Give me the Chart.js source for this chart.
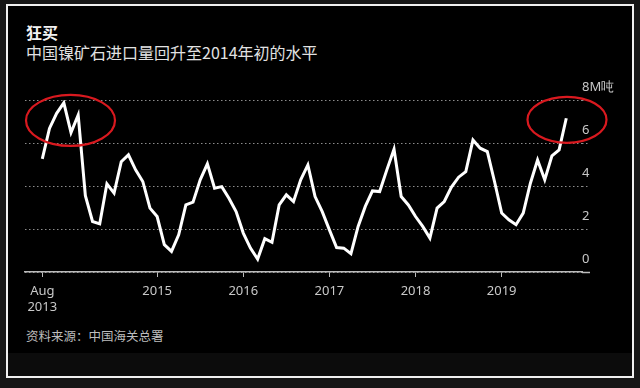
<!DOCTYPE html>
<html>
<head>
<meta charset="utf-8">
<script src="https://cdn.jsdelivr.net/npm/chart.js@4.4.1/dist/chart.umd.min.js"></script>
<style>
  body { margin: 0; background: #161616; width: 640px; height: 388px; overflow: hidden; }
  #frame { position: absolute; left: 6px; top: 4px; width: 628px; height: 374px; box-sizing: border-box;
           border: 2px solid #f0f0f0; background: #000; }
  #band { position: absolute; left: 8px; top: 353px; width: 624px; height: 23px; background: #0c0c0c; }
  .txt { position: absolute; left: 26px; font-family: "Noto Sans CJK SC", "Noto Sans", sans-serif; white-space: nowrap; }
  #title { top: 20px; font-size: 16px; font-weight: bold; color: #f2f2f2; }
  #subtitle { top: 40px; font-size: 16px; color: #e2e2e2; }
  #source { top: 326px; font-size: 12.5px; color: #bdbdbd; }
  canvas { position: absolute; left: 0; top: 0; }
</style>
</head>
<body>
<div id="frame"></div>
<div id="band"></div>
<div class="txt" id="title">狂买</div>
<div class="txt" id="subtitle">中国镍矿石进口量回升至2014年初的水平</div>
<div class="txt" id="source">资料来源：中国海关总署</div>
<canvas id="myChart" width="640" height="388"></canvas>
<script>
// monthly nickel ore imports, million tonnes, Aug 2013 - Sep 2019
let months = [];
for (let y = 2013; y <= 2019; y++) {
    for (let m = 1; m <= 12; m++) {
        if ((y === 2013 && m < 8) || (y === 2019 && m > 9)) continue;
        months.push(y + '-' + (m < 10 ? '0' + m : m));
    }
}
let imports = [5.26, 6.68, 7.38, 7.87, 6.48, 7.30, 3.55, 2.35, 2.24, 4.10, 3.67, 5.13,
    5.45, 4.75, 4.21, 2.97, 2.58, 1.27, 0.96, 1.73, 3.12, 3.25, 4.29, 5.03,
    3.90, 3.97, 3.43, 2.81, 1.81, 1.11, 0.60, 1.55, 1.38, 3.12, 3.59, 3.28,
    4.29, 4.98, 3.51, 2.81, 1.96, 1.14, 1.11, 0.85, 2.12, 3.05, 3.77, 3.74,
    4.75, 5.71, 3.51, 3.12, 2.58, 2.12, 1.58, 2.97, 3.28, 3.95, 4.41, 4.67,
    6.14, 5.76, 5.60, 4.21, 2.74, 2.43, 2.20, 2.74, 4.13, 5.21, 4.29, 5.40,
    5.68, 7.15];
// x tick positions (index into months) and their labels
let xTickIdx = [0, 16, 28, 40, 52, 64];
let xTickText = [['Aug', '2013'], '2015', '2016', '2017', '2018', '2019'];
let yTicks = [0, 2, 4, 6, 8];
let yUnit = 'M吨';

let points = imports.map((v, i) => ({ x: i, y: v }));

// red circles around early 2014 and latest month
const ellipses = {
    id: 'ellipses',
    afterDatasetsDraw(chart) {
        let ctx = chart.ctx;
        let xs = chart.scales.x, ys = chart.scales.y;
        let marks = [{ i: 3.93, v: 7.05, rx: 44.5, ry: 25.5 }, { i: 73.1, v: 7.08, rx: 39.5, ry: 23 }];
        ctx.save();
        ctx.strokeStyle = '#d9191f';
        ctx.lineWidth = 2.2;
        marks.forEach(m => {
            ctx.beginPath();
            ctx.ellipse(xs.getPixelForValue(m.i), ys.getPixelForValue(m.v), m.rx, m.ry, 0, 0, Math.PI * 2);
            ctx.stroke();
        });
        ctx.restore();
    }
};

let ctx = document.getElementById('myChart').getContext('2d');
let myChart = new Chart(ctx, {
    type: 'line',
    data: {
        datasets: [{
            data: points,
            borderColor: '#ffffff',
            borderWidth: 3,
            pointRadius: 0,
            tension: 0,
            borderJoinStyle: 'miter'
        }]
    },
    options: {
        responsive: false,
        animation: false,
        layout: { padding: { left: 25, right: 0, top: 100, bottom: 76 } },
        plugins: { legend: { display: false }, tooltip: { enabled: false } },
        scales: {
            x: {
                type: 'linear',
                min: -2.41,
                max: 75.19,
                afterBuildTicks: (scale) => { scale.ticks = xTickIdx.map(v => ({ value: v })); },
                afterFit: (scale) => { scale.height = 40; },
                grid: { drawOnChartArea: false, color: '#bbbbbb', tickLength: 5, lineWidth: 1 },
                border: { color: '#bbbbbb', width: 1.5 },
                ticks: {
                    color: '#c8c8c8',
                    padding: 6,
                    maxRotation: 0,
                    autoSkip: false,
                    font: { family: 'Noto Sans', size: 13, lineHeight: 1.25 },
                    callback: (v) => xTickText[xTickIdx.indexOf(v)]
                }
            },
            y: {
                position: 'right',
                min: 0,
                max: 8,
                afterBuildTicks: (scale) => { scale.ticks = yTicks.map(v => ({ value: v })); },
                afterFit: (scale) => { scale.width = 58; },
                grid: {
                    color: '#8c8c8c',
                    lineWidth: 1,
                    drawTicks: true,
                    tickLength: 8,
                    // grid lines run a bit past the plot; the zero line is the solid axis
                    tickColor: (c) => c.tick && c.tick.value === 0 ? '#bbbbbb' : '#8c8c8c',
                    tickWidth: (c) => c.tick && c.tick.value === 0 ? 1.5 : 1,
                    tickBorderDash: (c) => c.tick && c.tick.value === 0 ? [] : [1.5, 2.5]
                },
                border: { display: false, dash: [1.5, 2.5] },
                ticks: {
                    color: '#c8c8c8',
                    padding: -8,
                    labelOffset: -13,
                    font: { family: 'Noto Sans', size: 13 },
                    callback: (v) => v === 8 ? v + yUnit : v
                }
            }
        }
    },
    plugins: [ellipses]
});
</script>
</body>
</html>
